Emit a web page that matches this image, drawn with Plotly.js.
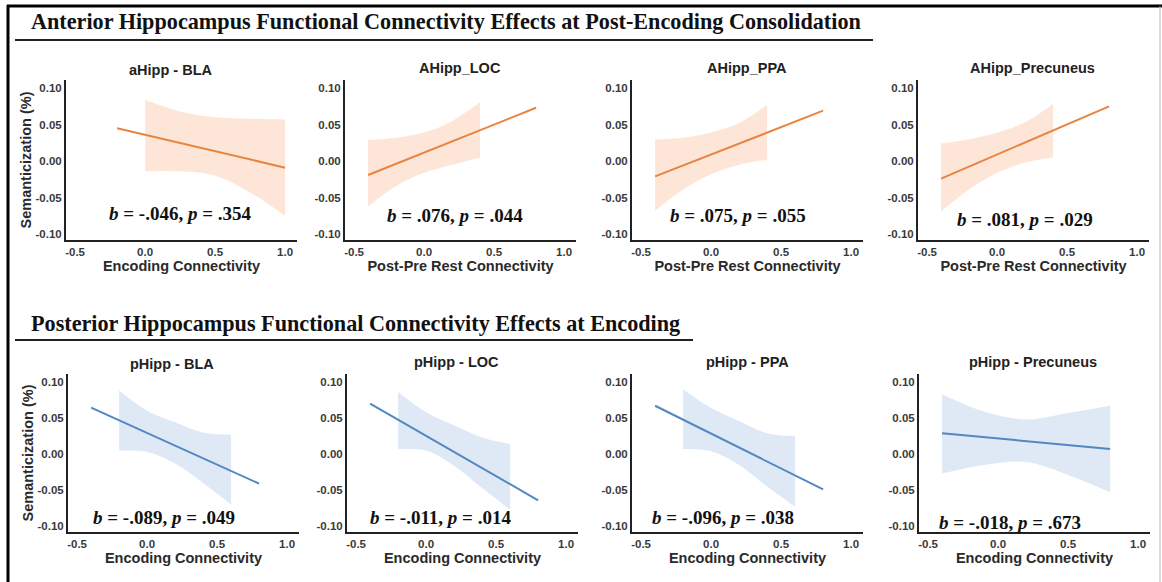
<!DOCTYPE html>
<html>
<head>
<meta charset="utf-8">
<script src="https://cdn.plot.ly/plotly-3.0.1.min.js"></script>
<style>
  html, body { margin: 0; padding: 0; background: #ffffff; }
  #chart { width: 1162px; height: 582px; }
</style>
</head>
<body>
<div id="chart"></div>
<script>
// ---------------- DATA ----------------
const sectionTitles = [
  "Anterior Hippocampus Functional Connectivity Effects at Post-Encoding Consolidation",
  "Posterior Hippocampus Functional Connectivity Effects at Encoding"
];
const panelTitles = [
  "aHipp - BLA", "AHipp_LOC", "AHipp_PPA", "AHipp_Precuneus",
  "pHipp - BLA", "pHipp - LOC", "pHipp - PPA", "pHipp - Precuneus"
];
const xTitles = [
  "Encoding Connectivity", "Post-Pre Rest Connectivity", "Post-Pre Rest Connectivity", "Post-Pre Rest Connectivity",
  "Encoding Connectivity", "Encoding Connectivity", "Encoding Connectivity", "Encoding Connectivity"
];
const yTitle = "Semanticization (%)";
const statB = ["-.046", ".076", ".075", ".081", "-.089", "-.011", "-.096", "-.018"];
const statP = [".354", ".044", ".055", ".029", ".049", ".014", ".038", ".673"];

// regression line endpoints
const lineX = [
  [-0.2, 1.0], [-0.4, 0.8], [-0.4, 0.8], [-0.4, 0.8],
  [-0.4, 0.8], [-0.4, 0.8], [-0.4, 0.8], [-0.4, 0.8]
];
const lineY = [
  [0.045, -0.009], [-0.019, 0.073], [-0.021, 0.069], [-0.024, 0.075],
  [0.0645, -0.041], [0.070, -0.064], [0.067, -0.049], [0.029, 0.007]
];

// confidence bands
const bandX = [
  [0, 0.25, 0.5, 0.75, 1.0],
  [-0.4, -0.2, 0, 0.2, 0.4],
  [-0.4, -0.2, 0, 0.2, 0.4],
  [-0.4, -0.2, 0, 0.2, 0.4],
  [-0.2, 0, 0.2, 0.4, 0.6],
  [-0.2, 0, 0.2, 0.4, 0.6],
  [-0.2, 0, 0.2, 0.4, 0.6],
  [-0.4, -0.1, 0.2, 0.5, 0.8]
];
const bandUpper = [
  [0.084, 0.068, 0.060, 0.058, 0.057],
  [0.029, 0.032, 0.039, 0.055, 0.081],
  [0.0295, 0.032, 0.039, 0.052, 0.077],
  [0.024, 0.030, 0.039, 0.053, 0.078],
  [0.088, 0.060, 0.044, 0.030, 0.027],
  [0.086, 0.058, 0.040, 0.023, 0.014],
  [0.090, 0.064, 0.046, 0.029, 0.025],
  [0.083, 0.059, 0.048, 0.057, 0.067]
];
const bandLower = [
  [-0.014, -0.014, -0.020, -0.043, -0.075],
  [-0.062, -0.034, -0.016, -0.005, 0.005],
  [-0.068, -0.039, -0.018, -0.005, 0.002],
  [-0.069, -0.039, -0.016, -0.002, 0.005],
  [0.0045, 0.003, -0.013, -0.040, -0.070],
  [0.007, 0.005, -0.016, -0.047, -0.077],
  [0.007, 0.004, -0.015, -0.045, -0.073],
  [-0.027, -0.015, -0.011, -0.029, -0.053]
];

const xTickVals = [-0.5, 0, 0.5, 1.0];
const xTickText = ["-0.5", "0.0", "0.5", "1.0"];
const yTickVals = [-0.10, -0.05, 0, 0.05, 0.10];
const yTickText = ["-0.10", "-0.05", "0.00", "0.05", "0.10"];

// ---------------- LAYOUT / STYLE ----------------
const W = 1162, H = 582;
const px = v => v / W;
const py = v => 1 - v / H;
const bold = s => "<b>" + s + "</b>";

const panelLeft = [66, 345, 632, 918, 68, 347, 632, 919];
const panelWidth = 231;
const rowTop = [80, 374];
const rowBottom = [240, 532];
const titlePos = [[170, 70], [460, 68], [747, 68], [1032, 68], [172, 364], [456, 362], [747, 362], [1033, 362]];
const statPos = [[180, 213], [455, 215], [738, 215], [1025, 219], [164, 517], [440, 517], [723, 517], [1010, 522]];

const lineColors = ["#E8843F", "#5287C1"];
const bandColors = ["rgba(251,214,190,0.6)", "rgba(200,218,238,0.6)"];

const traces = [];
const layout = {
  width: W, height: H,
  margin: {l: 0, r: 0, t: 0, b: 0},
  paper_bgcolor: "#ffffff",
  plot_bgcolor: "rgba(0,0,0,0)",
  showlegend: false,
  font: {family: "Liberation Sans, Arial, sans-serif", color: "#222"},
  annotations: [],
  shapes: []
};

for (let i = 0; i < 8; i++) {
  const row = i < 4 ? 0 : 1;
  const col = row === 0 ? 0 : 1; // color group
  const n = i + 1;
  const xa = "x" + (n === 1 ? "" : n);
  const ya = "y" + (n === 1 ? "" : n);
  traces.push({
    x: bandX[i], y: bandLower[i], xaxis: xa, yaxis: ya,
    mode: "lines", line: {width: 0, shape: "spline", color: bandColors[col]},
    hoverinfo: "skip"
  });
  traces.push({
    x: bandX[i], y: bandUpper[i], xaxis: xa, yaxis: ya,
    mode: "lines", line: {width: 0, shape: "spline", color: bandColors[col]},
    fill: "tonexty", fillcolor: bandColors[col],
    hoverinfo: "skip"
  });
  traces.push({
    x: lineX[i], y: lineY[i], xaxis: xa, yaxis: ya,
    mode: "lines", line: {width: 2, color: lineColors[col]}
  });

  const L = panelLeft[i];
  layout["xaxis" + (n === 1 ? "" : n)] = {
    domain: [px(L), px(L + panelWidth)],
    anchor: "y" + (n === 1 ? "" : n),
    range: [-0.565, 1.085],
    showgrid: false, zeroline: false,
    showline: true, linecolor: "#222", linewidth: 2,
    ticks: "", tickvals: xTickVals, ticktext: xTickText.map(bold),
    tickfont: {size: 11.5, color: "#3a3a3a"},
    title: {text: bold(xTitles[i]), font: {size: 14.5, color: "#2a2a2a"}, standoff: 2},
    fixedrange: true
  };
  layout["yaxis" + (n === 1 ? "" : n)] = {
    domain: [py(rowBottom[row]), py(rowTop[row])],
    anchor: "x" + (n === 1 ? "" : n),
    range: [-0.108, 0.111],
    showgrid: false, zeroline: false,
    showline: true, linecolor: "#222", linewidth: 2,
    ticks: "", tickvals: yTickVals, ticktext: yTickText.map(bold),
    tickfont: {size: 11.5, color: "#3a3a3a"},
    title: (i === 0 || i === 4) ? {text: bold(yTitle), font: {size: 14.5, color: "#2a2a2a"}, standoff: 0} : {text: ""},
    fixedrange: true
  };

  layout.annotations.push({
    xref: "paper", yref: "paper", x: px(titlePos[i][0]), y: py(titlePos[i][1]),
    xanchor: "center", yanchor: "middle", showarrow: false,
    text: bold(panelTitles[i]),
    font: {size: 14.5, color: "#222"}
  });
  layout.annotations.push({
    xref: "paper", yref: "paper", x: px(statPos[i][0]), y: py(statPos[i][1]),
    xanchor: "center", yanchor: "middle", showarrow: false,
    text: "<b><i>b</i> = " + statB[i] + ", <i>p</i> = " + statP[i] + "</b>",
    font: {family: "Liberation Serif, Times New Roman, serif", size: 19, color: "#111"}
  });
}

// Section headers
layout.annotations.push({
  xref: "paper", yref: "paper", x: px(29), y: py(22), xanchor: "left", yanchor: "middle",
  showarrow: false, text: bold(sectionTitles[0]),
  font: {family: "Liberation Serif, Times New Roman, serif", size: 22.2, color: "#111"}
});
layout.annotations.push({
  xref: "paper", yref: "paper", x: px(29), y: py(323), xanchor: "left", yanchor: "middle",
  showarrow: false, text: bold(sectionTitles[1]),
  font: {family: "Liberation Serif, Times New Roman, serif", size: 22.2, color: "#111"}
});

// underlines and border
layout.shapes.push({type: "line", xref: "paper", yref: "paper", x0: px(15), x1: px(873), y0: py(40), y1: py(40), line: {color: "#222", width: 2}});
layout.shapes.push({type: "line", xref: "paper", yref: "paper", x0: px(15), x1: px(693), y0: py(340), y1: py(340), line: {color: "#222", width: 2}});
layout.shapes.push({type: "line", xref: "paper", yref: "paper", x0: px(8), x1: px(8), y0: py(5), y1: py(582), line: {color: "#000", width: 3}});
layout.shapes.push({type: "line", xref: "paper", yref: "paper", x0: px(7), x1: px(1162), y0: py(6), y1: py(6), line: {color: "#000", width: 3}});
layout.shapes.push({type: "line", xref: "paper", yref: "paper", x0: px(1160), x1: px(1160), y0: py(6), y1: py(582), line: {color: "#bbb", width: 1}});

Plotly.newPlot("chart", traces, layout, {displayModeBar: false, staticPlot: true});
</script>
</body>
</html>
